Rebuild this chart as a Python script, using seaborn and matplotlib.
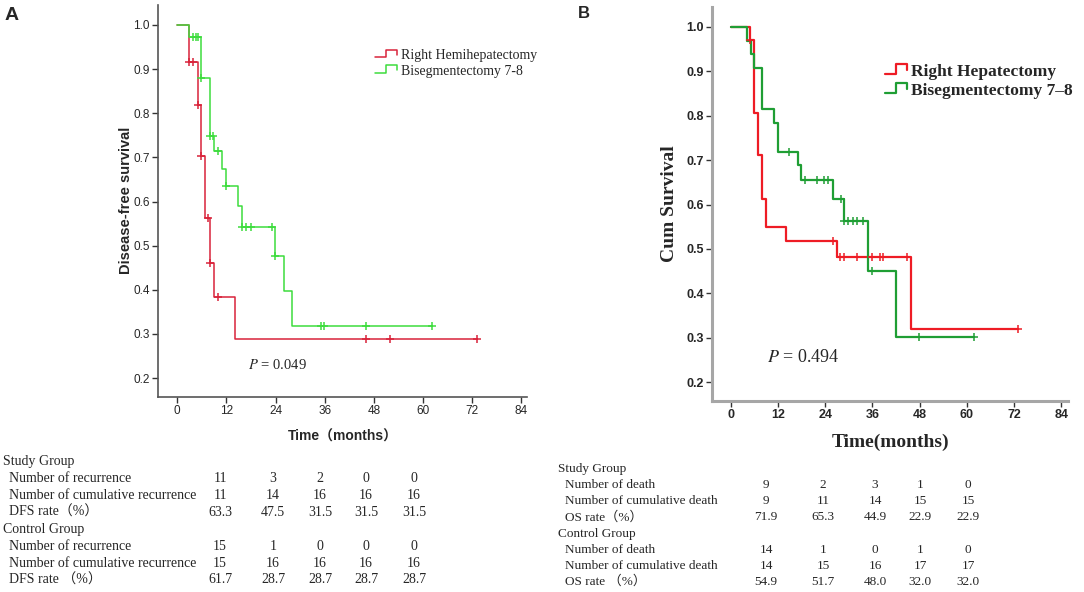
import numpy as np
import matplotlib
matplotlib.use("Agg")
import matplotlib.pyplot as plt
from matplotlib.legend_handler import HandlerLine2D
from matplotlib.lines import Line2D
import seaborn as sns

# ---- panel A: disease-free survival ----
a_red_t = [0, 2.9, 5.0, 5.9, 6.7, 8.0, 8.9, 14.0]
a_red_s = [1.0, 0.917, 0.819, 0.703, 0.562, 0.460, 0.384, 0.288]
a_red_cens = [2.9, 3.9, 5.0, 5.9, 7.4, 8.0, 10.0, 46.1, 51.9, 73.3]

a_grn_t = [0, 2.9, 5.9, 8.0, 9.0, 11.0, 12.0, 14.9, 15.9, 23.9, 26.0, 28.1]
a_grn_s = [1.0, 0.973, 0.879, 0.749, 0.714, 0.673, 0.634, 0.589, 0.543, 0.476, 0.397, 0.317]
a_grn_cens = [3.9, 4.7, 5.0, 5.9, 8.0, 8.7, 10.0, 12.0, 15.9, 16.9, 17.9, 23.1, 23.9,
              35.0, 35.9, 46.1, 62.1]

# ---- panel B: overall survival ----
b_red_t = [0, 4.9, 5.9, 7.0, 8.0, 8.9, 14.1, 26.9, 45.8]
b_red_s = [1.0, 0.970, 0.807, 0.711, 0.613, 0.549, 0.518, 0.481, 0.320]
b_red_cens = [4.9, 26.1, 27.8, 28.8, 32.0, 35.8, 38.0, 38.8, 44.9, 73.0]

b_grn_t = [0, 4.1, 5.1, 6.0, 8.0, 11.0, 12.1, 17.0, 17.9, 25.9, 28.9, 34.8, 41.9]
b_grn_s = [1.0, 0.969, 0.939, 0.907, 0.815, 0.783, 0.719, 0.688, 0.655, 0.613, 0.563, 0.450, 0.301]
b_grn_cens = [14.9, 18.9, 21.9, 23.8, 24.8, 28.0, 28.9, 29.9, 31.0, 32.0, 33.7, 35.8, 47.9, 61.8]

x_ticks = [0, 12, 24, 36, 48, 60, 72, 84]
y_ticks = [0.2, 0.3, 0.4, 0.5, 0.6, 0.7, 0.8, 0.9, 1.0]

# ---- tables under the plots ----
a_study_rows = [("Number of recurrence", ["11", "3", "2", "0", "0"]),
                ("Number of cumulative recurrence", ["11", "14", "16", "16", "16"]),
                ("DFS rate（%）", ["63.3", "47.5", "31.5", "31.5", "31.5"])]
a_ctrl_rows = [("Number of recurrence", ["15", "1", "0", "0", "0"]),
               ("Number of cumulative recurrence", ["15", "16", "16", "16", "16"]),
               ("DFS rate （%）", ["61.7", "28.7", "28.7", "28.7", "28.7"])]
b_study_rows = [("Number of death", ["9", "2", "3", "1", "0"]),
                ("Number of cumulative death", ["9", "11", "14", "15", "15"]),
                ("OS rate（%）", ["71.9", "65.3", "44.9", "22.9", "22.9"])]
b_ctrl_rows = [("Number of death", ["14", "1", "0", "1", "0"]),
               ("Number of cumulative death", ["14", "15", "16", "17", "17"]),
               ("OS rate （%）", ["54.9", "51.7", "48.0", "32.0", "32.0"])]

sns.set_style("ticks")
SANS = ["Liberation Sans", "Noto Sans CJK SC", "DejaVu Sans"]
SERIF = ["Liberation Serif", "Noto Sans CJK SC", "DejaVu Serif"]
plt.rcParams["font.family"] = SANS
plt.rcParams["mathtext.fontset"] = "stix"

W, H = 1084, 592
fig = plt.figure(figsize=(W / 100, H / 100), dpi=100)


def fx(px):
    return px / W


def fy(py):
    return 1 - py / H


class StepHandler(HandlerLine2D):
    # little step glyph like the SPSS legend
    def create_artists(self, legend, orig_handle, xdescent, ydescent,
                       width, height, fontsize, trans):
        x0 = -xdescent
        y0 = -ydescent
        xs = [x0, x0 + 0.5 * width, x0 + 0.5 * width, x0 + width, x0 + width]
        ys = [y0 + 0.15 * height, y0 + 0.15 * height, y0 + 0.95 * height,
              y0 + 0.95 * height, y0 + 0.45 * height]
        ln = Line2D(xs, ys, color=orig_handle.get_color(),
                    lw=orig_handle.get_linewidth(), transform=trans)
        return [ln]


def km(ax, t, s, cens, color, label, lw):
    tt = list(t) + [max(cens)]
    ss = list(s) + [s[-1]]
    sns.lineplot(x=tt, y=ss, drawstyle="steps-post", estimator=None, sort=False,
                 color=color, lw=lw, ax=ax, label=label, legend=False)
    idx = np.searchsorted(t, cens, side="right") - 1
    cy = np.array(s)[idx]
    sns.scatterplot(x=cens, y=cy, marker="+", s=40, color=color, linewidth=1.1,
                    ax=ax, legend=False, zorder=3)


def frame(ax, spine_col, spine_w, tick_font):
    ax.set_xlim(-4.7, 85.4)
    ax.set_ylim(0.158, 1.045)
    ax.set_xticks(x_ticks)
    ax.set_yticks(y_ticks)
    ax.set_yticklabels([f"{v:.1f}" for v in y_ticks])
    sns.despine(ax=ax)
    for sp in ("left", "bottom"):
        ax.spines[sp].set_color(spine_col)
        ax.spines[sp].set_linewidth(spine_w)
    ax.tick_params(length=4, width=1, color="#333333", pad=2)
    for lab in ax.get_xticklabels() + ax.get_yticklabels():
        lab.set(**tick_font)


# ---------------- Panel A ----------------
ax1 = fig.add_axes([fx(158), fy(396.7), fx(527 - 158), (396.7 - 5) / H])
km(ax1, a_red_t, a_red_s, a_red_cens, "#d9233a", "Right Hemihepatectomy", 1.1)
km(ax1, a_grn_t, a_grn_s, a_grn_cens, "#3ddc3d", "Bisegmentectomy 7-8", 1.1)
frame(ax1, "#555555", 1.2, dict(fontsize=8.5, family=SANS))
ax1.set_ylabel("Disease-free survival", fontsize=10.5, fontweight="bold", labelpad=0)
ax1.set_xlabel("Time（months）", fontsize=10, fontweight="bold", labelpad=9)
h, l = ax1.get_legend_handles_labels()
ax1.legend(h[:2], l[:2], loc="upper left", bbox_to_anchor=(fx(368), fy(42)),
           bbox_transform=fig.transFigure, frameon=False, handlelength=1.6,
           handletextpad=0.25, labelspacing=0.2, borderpad=0,
           handler_map={Line2D: StepHandler()},
           prop=dict(family=SERIF, size=10))
ax1.text(17.2, 0.229, r"$P$ = 0.049", fontsize=10.5, family=SERIF, va="center")
fig.text(fx(5), fy(15), "A", fontsize=14, fontweight="bold", va="center")

# ---------------- Panel B ----------------
ax2 = fig.add_axes([fx(712), fy(400.7), fx(1068 - 712), (400.7 - 7) / H])
km(ax2, b_red_t, b_red_s, b_red_cens, "#ee1c25", "Right Hepatectomy", 1.6)
km(ax2, b_grn_t, b_grn_s, b_grn_cens, "#1f9e34", "Bisegmentectomy 7\u20138", 1.6)
frame(ax2, "#a6a6a6", 2.2, dict(fontsize=9, fontweight="bold", family=SANS))
ax2.set_xlim(-4.75, 85.7)
ax2.set_ylabel("Cum Survival", fontsize=14, fontweight="bold", family=SERIF, labelpad=6)
ax2.set_xlabel("Time(months)", fontsize=14, fontweight="bold", family=SERIF, labelpad=9)
h, l = ax2.get_legend_handles_labels()
ax2.legend(h[:2], l[:2], loc="upper left", bbox_to_anchor=(fx(876), fy(55)),
           bbox_transform=fig.transFigure, frameon=False, handlelength=1.3,
           handletextpad=0.2, labelspacing=0.15, borderpad=0,
           handler_map={Line2D: StepHandler()},
           prop=dict(family=SERIF, size=12.5, weight="bold"))
ax2.text(9.2, 0.255, r"$P$ = 0.494", fontsize=13, family=SERIF, va="center")
fig.text(fx(578), fy(13), "B", fontsize=12, fontweight="bold", va="center")


# ---------------- tables ----------------
def table(x0, x_ind, cols, y0, dy, study, ctrl, size):
    y = y0
    groups = [("Study Group", study), ("Control Group", ctrl)]
    for name, rows in groups:
        fig.text(fx(x0), fy(y), name, fontsize=size, family=SERIF, va="center")
        y += dy
        for lab, vals in rows:
            fig.text(fx(x_ind), fy(y), lab, fontsize=size, family=SERIF, va="center")
            for cx, v in zip(cols, vals):
                fig.text(fx(cx), fy(y), v, fontsize=size, family=SERIF,
                         va="center", ha="center")
            y += dy


table(3, 9, [220, 273, 320, 366, 414], 461.7, 16.9, a_study_rows, a_ctrl_rows, 10)
table(558, 565, [766, 823, 875, 920, 968], 469.3, 16.05, b_study_rows, b_ctrl_rows, 9.5)

fig.savefig("out.png", dpi=100)
